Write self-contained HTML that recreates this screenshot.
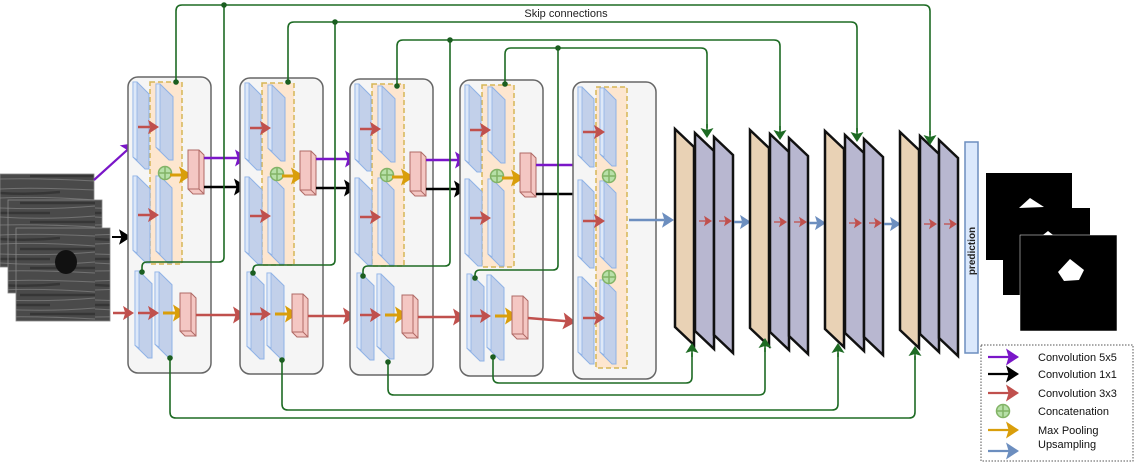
<!DOCTYPE html>
<html><head><meta charset="utf-8"><style>
html,body{margin:0;padding:0;background:#fff;width:1134px;height:462px;overflow:hidden}
svg{display:block}
</style></head><body>
<svg id="s" width="1134" height="462" viewBox="0 0 1134 462" xmlns="http://www.w3.org/2000/svg" font-family="Liberation Sans, sans-serif">
<defs>
<pattern id="us" width="95" height="46" patternUnits="userSpaceOnUse">
<rect width="95" height="46" fill="#4a4a4a"/>
<path d="M0 5 Q30 3 95 6 M0 14 Q40 12 95 16 M0 24 Q50 26 95 22 M0 33 Q45 36 95 32 M0 41 Q40 40 95 43" stroke="#9a9a9a" stroke-width="1" fill="none" opacity="0.5"/>
<path d="M0 9 Q30 11 60 8 M20 19 H95 M0 29 H50 M30 38 H95" stroke="#2e2e2e" stroke-width="2.5" fill="none" opacity="0.7"/>
</pattern>
</defs>
<g id="g"></g>
</svg>
<script>
var o='';
function P(pts,fill,stroke,sw){o+='<polygon points="'+pts.map(function(p){return p.join(',')}).join(' ')+'" fill="'+fill+'" stroke="'+stroke+'" stroke-width="'+(sw||1)+'"/>';}
function slab(x,y,w,h){
  P([[x,y],[x+4,y],[x+w,y+w*0.75],[x+w,y+h],[x+w-4,y+h],[x,y+h-w*0.75]],'#c2d0ea','#8fb2e6',1);
  P([[x,y],[x+4,y],[x+4,y+h-w*0.75+3],[x,y+h-w*0.75]],'#dde8f8','#8fb2e6',0.8);
}
function arrow(x1,y1,x2,y2,c,sw,hs){
  sw=sw||2;hs=hs||8;
  var a=Math.atan2(y2-y1,x2-x1),bx=x2-hs*Math.cos(a),by=y2-hs*Math.sin(a);
  var mx=x2-hs*0.8*Math.cos(a),my=y2-hs*0.8*Math.sin(a);
  o+='<line x1="'+x1+'" y1="'+y1+'" x2="'+mx+'" y2="'+my+'" stroke="'+c+'" stroke-width="'+sw+'"/>';
  var px=-Math.sin(a)*hs*0.65,py=Math.cos(a)*hs*0.65;
  o+='<polygon points="'+x2+','+y2+' '+(bx+px)+','+(by+py)+' '+mx+','+my+' '+(bx-px)+','+(by-py)+'" fill="'+c+'"/>';
}
function pink(x,y,w,h){
  P([[x,y],[x+w-5,y],[x+w,y+5],[x+w,y+h],[x+5,y+h],[x,y+h-5]],'#f4c7c3','#b06a66',1);
  o+='<line x1="'+(x+w-5)+'" y1="'+y+'" x2="'+(x+w-5)+'" y2="'+(y+h-5)+'" stroke="#b06a66"/><line x1="'+x+'" y1="'+(y+h-5)+'" x2="'+(x+w-5)+'" y2="'+(y+h-5)+'" stroke="#b06a66"/><line x1="'+(x+w-5)+'" y1="'+(y+h-5)+'" x2="'+(x+w)+'" y2="'+(y+h)+'" stroke="#b06a66"/>';
}
function plus(x,y){o+='<circle cx="'+x+'" cy="'+y+'" r="6.5" fill="#b7e0a8" stroke="#82b366" stroke-width="1.5"/><path d="M'+(x-6)+' '+y+'H'+(x+6)+'M'+x+' '+(y-6)+'V'+(y+6)+'" stroke="#82b366" stroke-width="1.5"/>';}
function dot(x,y){o+='<circle cx="'+x+'" cy="'+y+'" r="2.8" fill="#1b5e20"/>';}
function gl(d){o+='<path d="'+d+'" fill="none" stroke="#1e6b24" stroke-width="1.6"/>';}
var R='#c0504d',Y='#d99e0b',PU='#7a16c8',K='#000',B='#6c8ebf';

[[0,174],[8,200],[16,228]].forEach(function(p,i){o+='<rect x="'+p[0]+'" y="'+p[1]+'" width="94" height="93" fill="url(#us)" stroke="#888" stroke-width="0.8"/>';});
o+='<ellipse cx="66" cy="262" rx="11" ry="12" fill="#111"/>';
arrow(94,180,135,143,PU,2.2,13);
arrow(112,237,131,237,K,2,12);

var tops=[[176,5,930,143,224],[288,22,857,140,335],[397,40,780,138,450],[505,48,707,136,558]];
var junc=[[224,5,262,142,272],[335,22,265,253,273],[450,40,266,363,276],[558,48,270,475,278]];
var bots=[[170,358,418,915,348],[282,360,410,838,345],[388,362,395,765,340],[493,357,383,692,345]];

var bxs=[128,240,350,460],bys=[77,78,79,80];
for(var i=0;i<4;i++){
  var bx=bxs[i],by=bys[i];
  o+='<rect x="'+bx+'" y="'+by+'" width="83" height="296" rx="10" fill="#f5f5f5" stroke="#666" stroke-width="1.5"/>';
  o+='<rect x="'+(bx+22)+'" y="'+(by+5)+'" width="32" height="182" fill="#fde6cf" stroke="#d6b656" stroke-width="1.5" stroke-dasharray="5,3"/>';
  slab(bx+5,by+5,16,87);slab(bx+28,by+7,17,76);
  slab(bx+5,by+99,17,87);slab(bx+28,by+99,16,87);
  arrow(bx+10,by+50,bx+31,by+50,R,2.5,11);arrow(bx+10,by+138,bx+31,by+138,R,2.5,11);
  plus(bx+37,by+96);
  arrow(bx+42,by+98,bx+64,by+98,Y,3,13);
  pink(bx+60,by+73,16,44);
  slab(bx+7,by+194,17,87);slab(bx+27,by+195,17,85);
  arrow(bx+10,by+236,bx+31,by+236,R,2.5,11);
  arrow(bx+35,by+236,bx+58,by+236,Y,3,13);
  pink(bx+52,by+216,16,43);
  var nx=(i<3?bxs[i+1]:573);
  arrow(bx+68,by+238,nx+(i<3?6:3),by+238+(i<3?0:4),R,2.5,13);
  if(i<3){
    arrow(bx+76,by+81,nx+8,by+81,PU,2.5,13);
    arrow(bx+76,by+110,nx+7,by+110,K,2.5,13);
  } else {
    arrow(bx+76,by+85,nx+14,by+85,PU,2.5,13);
    arrow(bx+76,by+114,nx+14,by+114,K,2.5,13);
  }
}
arrow(113,313,134,313,R,2.5,11);
var bx=573,by=82;
o+='<rect x="'+bx+'" y="'+by+'" width="83" height="297" rx="10" fill="#f5f5f5" stroke="#666" stroke-width="1.5"/>';
o+='<rect x="596" y="87" width="31" height="281" fill="#fde6cf" stroke="#d6b656" stroke-width="1.5" stroke-dasharray="5,3"/>';
slab(578,87,16,80);slab(578,180,16,88);slab(578,277,16,87);
slab(600,88,16,78);slab(600,181,16,87);slab(600,280,16,84);
arrow(583,132,605,132,R,2.5,11);arrow(583,221,605,221,R,2.5,11);arrow(583,318,605,318,R,2.5,11);
plus(609,176);plus(609,277);
arrow(629,220,674,220,B,2.5,12);

var dxs=[675,750,825,900];
for(var j=0;j<4;j++){
  var x=dxs[j],y=129+j;
  [[0,'#e9d2b5'],[20,'#b8b7d0'],[39,'#b8b7d0']].forEach(function(s,k){
    var sx=x+s[0],sy=y+k*4;
    P([[sx,sy],[sx+19,sy+18],[sx+19,sy+216],[sx,sy+198]],s[1],'#111',2.5);
  });
  arrow(x+24,y+92,x+37,y+92,R,1.3,8);arrow(x+44,y+92,x+57,y+92,R,1.3,8);
  if(j<3)arrow(x+59,y+93,dxs[j+1]+1,y+93,B,2.5,11);
}
o+='<rect x="965" y="142" width="13" height="211" fill="#dae8fc" stroke="#6c8ebf" stroke-width="1.5"/>';
o+='<text x="0" y="0" transform="translate(975,251) rotate(-90)" font-size="10" font-weight="bold" text-anchor="middle" fill="#222">prediction</text>';
o+='<rect x="986" y="173" width="86" height="87" fill="#000"/><path d="M1019 208 L1030 198 L1044 207 Z" fill="#fff"/>';
o+='<rect x="1003" y="208" width="87" height="87" fill="#000"/><path d="M1043 235 L1048 231 L1053 235Z" fill="#fff"/>';
o+='<rect x="1020" y="235" width="97" height="96" fill="#000" stroke="#fff" stroke-width="0.5"/><path d="M1058 272 L1070 259 L1084 270 L1079 280 L1064 281Z" fill="#fff"/>';

tops.forEach(function(t){var sy=t[0]<300?82:(t[0]<400?86:84);gl('M'+t[0]+' '+sy+' V'+(t[1]+6)+' Q'+t[0]+' '+t[1]+' '+(t[0]+6)+' '+t[1]+' H'+(t[2]-6)+' Q'+t[2]+' '+t[1]+' '+t[2]+' '+(t[1]+6)+' V'+(t[3]-8));arrow(t[2],t[3]-12,t[2],t[3]+2,'#1e6b24',1.6,10);dot(t[0],sy);});
junc.forEach(function(t){gl('M'+t[0]+' '+t[1]+' V'+(t[2]-5)+' Q'+t[0]+' '+t[2]+' '+(t[0]-5)+' '+t[2]+' H'+(t[3]+5)+' Q'+t[3]+' '+t[2]+' '+t[3]+' '+(t[2]+5)+' V'+t[4]);dot(t[0],t[1]);dot(t[3],t[4]);});
bots.forEach(function(t){gl('M'+t[0]+' '+t[1]+' V'+(t[2]-6)+' Q'+t[0]+' '+t[2]+' '+(t[0]+6)+' '+t[2]+' H'+(t[3]-6)+' Q'+t[3]+' '+t[2]+' '+t[3]+' '+(t[2]-6)+' V'+(t[4]+8));arrow(t[3],t[4]+12,t[3],t[4]-2,'#1e6b24',1.6,10);dot(t[0],t[1]);});
o+='<text x="566" y="17" font-size="11" text-anchor="middle" fill="#222">Skip connections</text>';

o+='<rect x="981" y="345" width="152" height="116" fill="#fff" stroke="#555" stroke-width="1" stroke-dasharray="1.5,1.5"/>';
var L=[['Convolution 5x5',PU,357],['Convolution 1x1',K,374],['Convolution 3x3',R,393],['Concatenation',null,411],['Max Pooling',Y,430],['Upsampling',B,451]];
L.forEach(function(l){
  if(l[1])arrow(988,l[2],1019,l[2],l[1],2.2,13);else plus(1003,l[2]);
  o+='<text x="1038" y="'+(l[2]+(l[0]=='Upsampling'?-3:4))+'" font-size="11" fill="#111">'+l[0]+'</text>';
});
document.getElementById('g').innerHTML=o;
</script>
</body></html>
